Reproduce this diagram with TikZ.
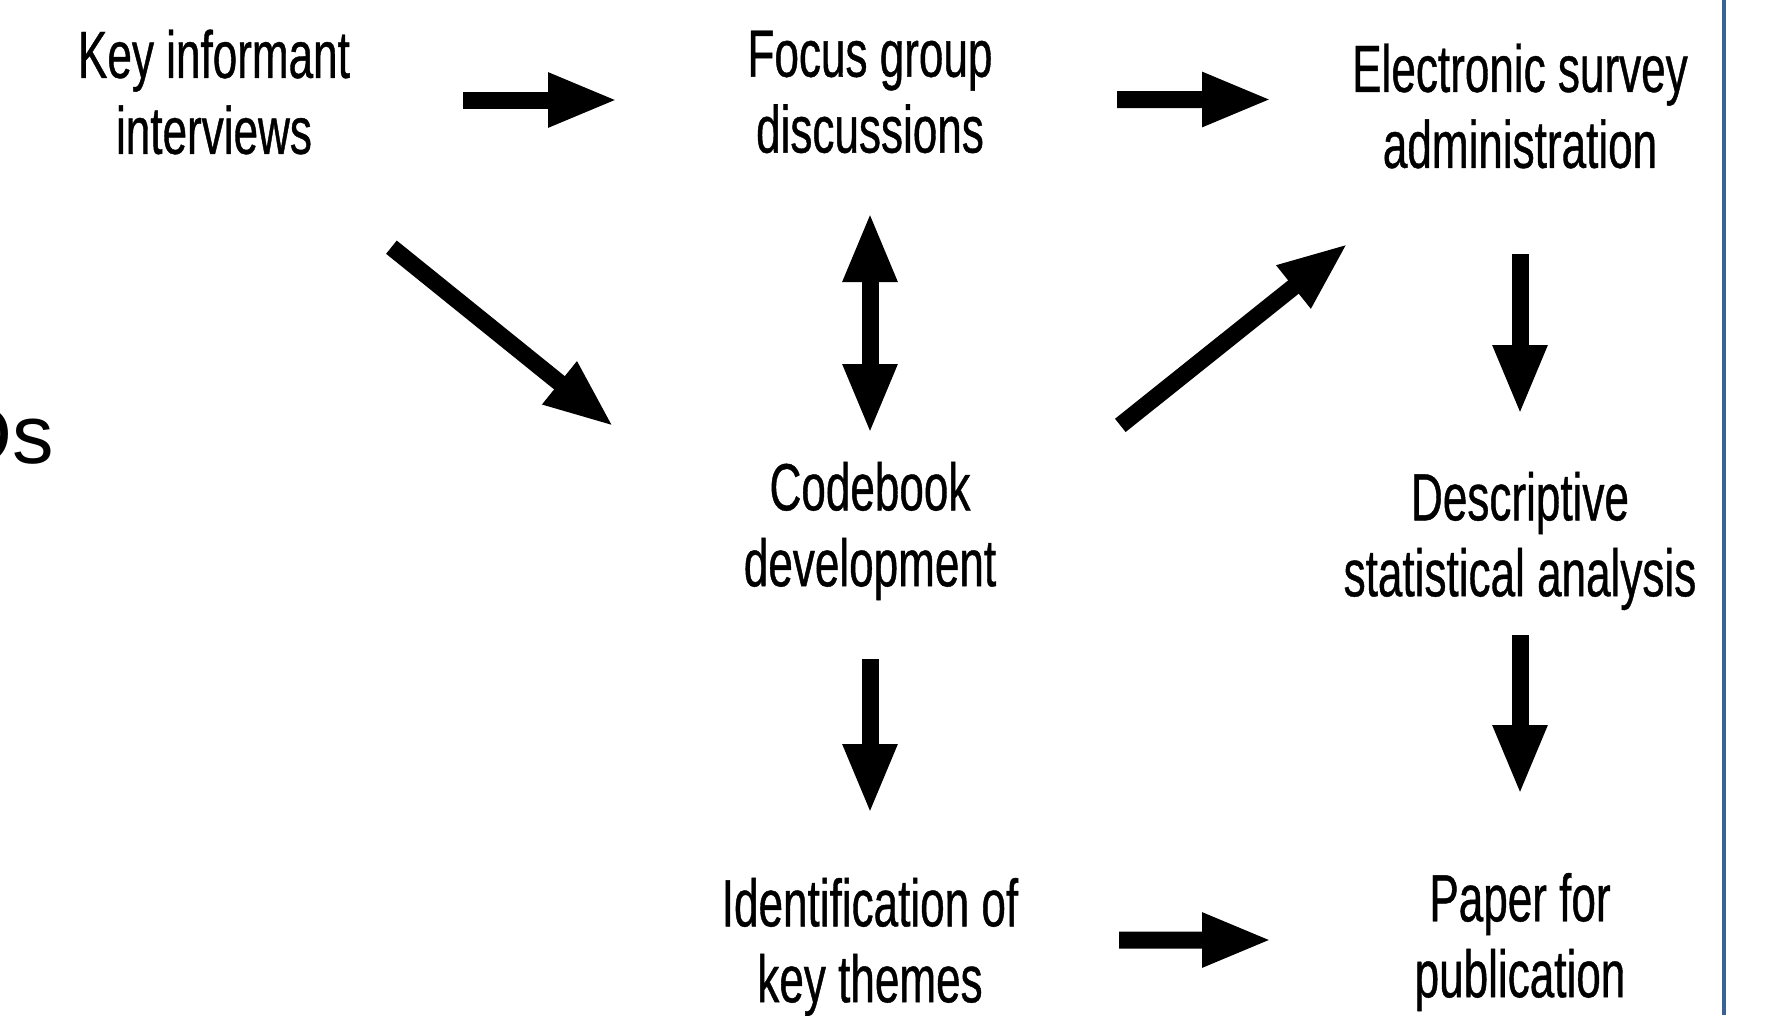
\documentclass[tikz,border=0pt]{standalone}
\usepackage{fontspec}
\setmainfont{Liberation Sans}[FakeStretch=0.66, FakeBold=0.6]
\newfontfamily\slidefont{Liberation Sans}
\usetikzlibrary{arrows.meta}

\definecolor{slideblue}{RGB}{58,98,150}

\tikzset{
  stage/.style = {font=\fontsize{19}{21.6}\selectfont, align=center, inner sep=0pt},
  flow/.style = {line width=0.17cm}
}

\begin{document}
\begin{tikzpicture}
          [>= {Triangle[length=0.7cm, width=0.5cm]}]
          \useasboundingbox (0,0) rectangle (17.72,10.15);
          % stages
          \node[stage] (ki) at (2.14,9.23) {Key informant\\interviews};
          \node[stage] (fg) at (8.70,9.23) {Focus group\\discussions};
          \node[stage] (es) at (15.20,9.09) {Electronic survey\\administration};
          \node[stage] (cb) at (8.70,4.84) {Codebook\\development};
          \node[stage] (dsa) at (15.20,4.74) {Descriptive\\statistical analysis};
          \node[stage] (ik) at (8.70,0.68) {Identification of\\key themes};
          \node[stage] (pp) at (15.20,0.73) {Paper for\\publication};
          % left over from the slide
          \node[font=\slidefont\fontsize{23.6}{28}\selectfont, anchor=base west, inner sep=0pt] (slide) at (-0.48,5.52) {Ds};
          \draw[slideblue, line width=0.04cm] (17.24,0) -- (17.24,10.15);
          % arrows
          \draw[flow, ->, shorten <=2.49cm, shorten >=2.52cm] ([yshift=-0.08cm]ki.center) -- ([yshift=-0.08cm]fg.center);
          \draw[flow, ->, shorten <=2.47cm, shorten >=2.48cm] ([yshift=-0.075cm]fg.center) -- ([yshift=0.065cm]es.center);
          \draw[flow, ->, shorten <=2.28cm, shorten >=1.66cm] ([yshift=-0.12cm]ki.center) -- (cb.west);
          \draw[flow, <->, shorten <=1.20cm, shorten >=0.97cm] (fg.center) -- (cb.center);
          \draw[flow, ->, shorten <=1.58cm, shorten >=2.20cm] ([yshift=0.07cm]cb.east) -- (es.center);
          \draw[flow, ->, shorten <=1.48cm, shorten >=1.26cm] (es.center) -- (dsa.center);
          \draw[flow, ->, shorten <=0.94cm, shorten >=1.47cm] (dsa.center) -- (pp.center);
          \draw[flow, ->, shorten <=1.28cm, shorten >=1.33cm] (cb.center) -- (ik.center);
          \draw[flow, ->, shorten <=2.49cm, shorten >=2.48cm] ([yshift=0.07cm]ik.center) -- ([yshift=0.02cm]pp.center);
        \end{tikzpicture}
\end{document}
